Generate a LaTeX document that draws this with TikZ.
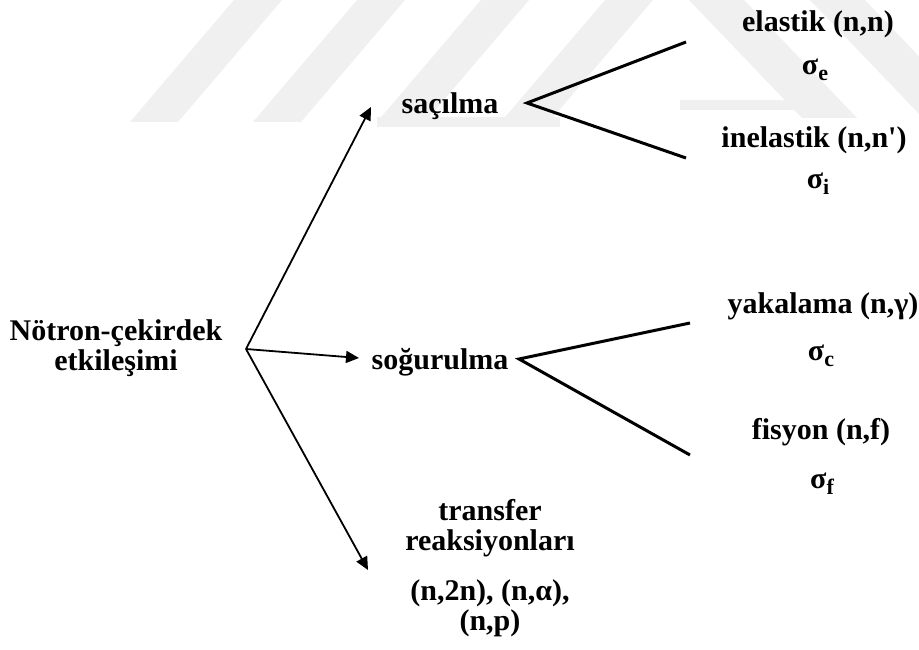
\documentclass[tikz,border=0pt]{standalone}
\usepackage{fontspec}
\setmainfont{Liberation Serif}
\usetikzlibrary{arrows.meta}

\tikzset{
  lbl/.style={font=\fontsize{30}{30}\selectfont\bfseries, inner sep=0pt, anchor=base, align=center},
  ptr/.style={line width=1.8pt, -{Triangle[length=13pt,width=12pt]}},
  fork/.style={line width=3pt, line join=miter},
  wm/.style={fill=black!6, draw=none},
}
% cross-section symbol with a lowered index
\newcommand{\xsec}[1]{σ\raisebox{-6pt}{\fontsize{22}{22}\selectfont #1}}

\begin{document}
\begin{tikzpicture}[x=1pt,y=-1pt]
\useasboundingbox (0,0) rectangle (919,650);
\fill[white] (0,0) rectangle (919,650);

% faint background emblem: slanted stripes and base bars
\foreach \b in {130,253,377,501}
  \fill[wm] (\b,122) -- ++(48,0) -- ++(104,-122) -- ++(-48,0) -- cycle;
\fill[wm] (377,117) rectangle (560,127);
\fill[wm] (689,0) -- ++(55,0) -- ++(113,118) -- ++(-55,0) -- cycle;
\fill[wm] (810,0) -- ++(55,0) -- ++(113,118) -- ++(-55,0) -- cycle;
\fill[wm] (680,100) rectangle (800,110);

% labels (multi-line nodes sit on the baseline of their last line)
\node[lbl] (src) at (116,370) {Nötron-çekirdek\\etkileşimi};
\node[lbl] (sac) at (450,114) {saçılma};
\node[lbl] (sog) at (440,369) {soğurulma};
\node[lbl] (trf) at (490,630) {transfer\\reaksiyonları\\[20pt](n,2n), (n,α),\\(n,p)};

\node[lbl] (el)   at (818,32)  {elastik (n,n)};
\node[lbl] (sgE)  at (815,75)  {\xsec{e}};
\node[lbl] (inel) at (814,148) {inelastik (n,n\textquotesingle)};
\node[lbl] (sgI)  at (818,189) {\xsec{i}};
\node[lbl] (yak)  at (823,313) {yakalama (n,γ)};
\node[lbl] (sgC)  at (821,360) {\xsec{c}};
\node[lbl] (fis)  at (821,439) {fisyon (n,f)};
\node[lbl] (sgF)  at (822,488) {\xsec{f}};

% connector end points
\coordinate (hub)  at (246,349);
\coordinate (toS)  at (371,107);
\coordinate (toA)  at (359,358);
\coordinate (toT)  at (368,570);
\coordinate (sacR) at (527,103);
\coordinate (elL)  at (686,42);
\coordinate (inL)  at (686,158);
\coordinate (sogR) at (519,359);
\coordinate (yakL) at (690,323);
\coordinate (fisL) at (690,455);

% arrows from the interaction
\draw[ptr] (hub) -- (toS);
\draw[ptr] (hub) -- (toA);
\draw[ptr] (hub) -- (toT);

% branches
\draw[fork] (elL) -- (sacR) -- (inL);
\draw[fork] (yakL) -- (sogR) -- (fisL);
\end{tikzpicture}
\end{document}
